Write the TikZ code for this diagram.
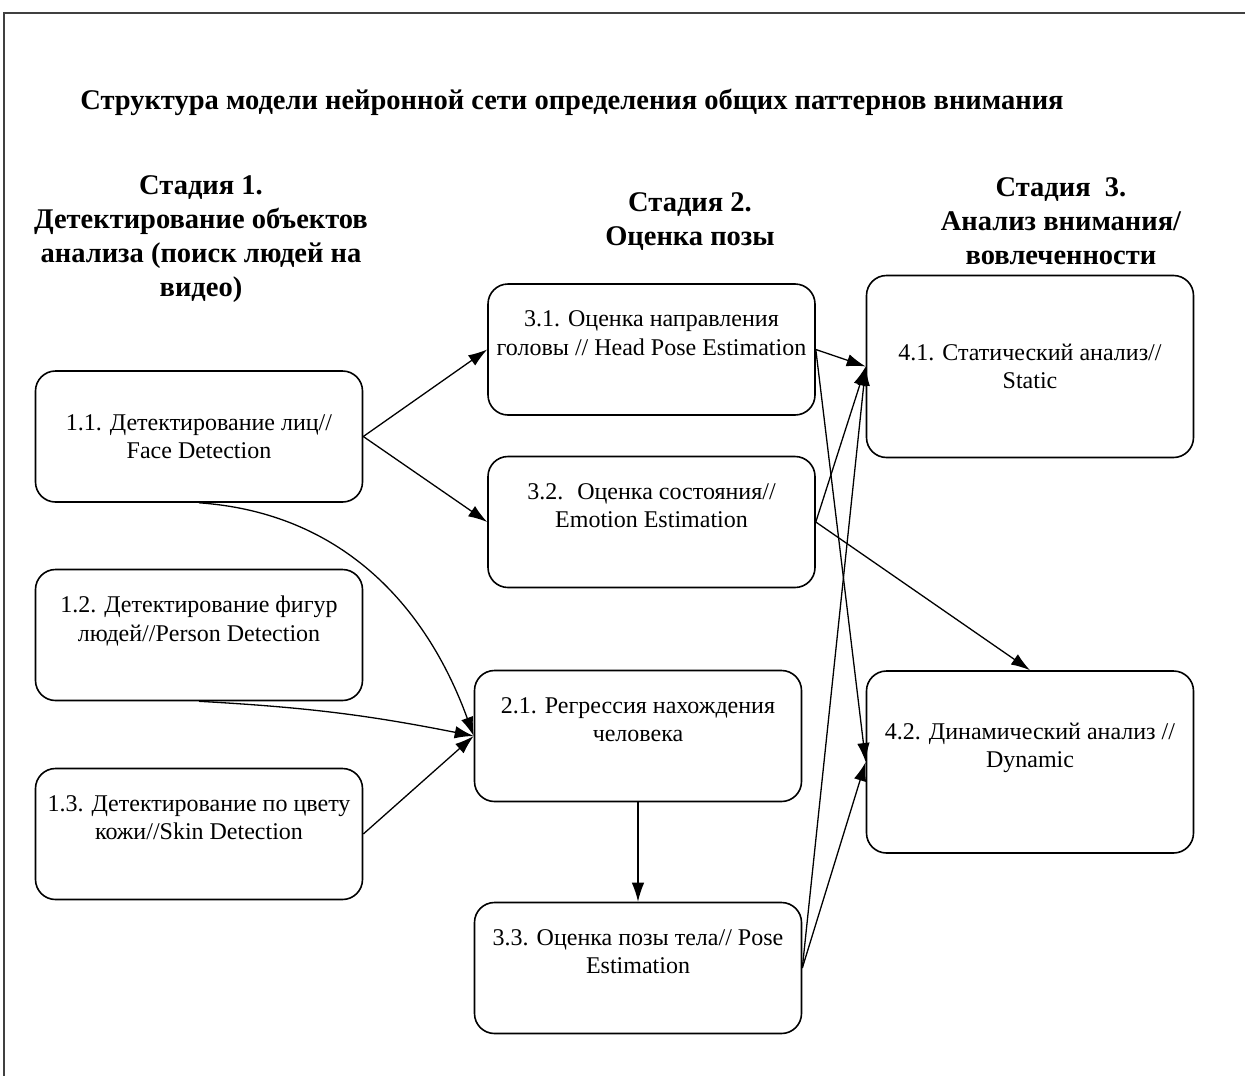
\documentclass[tikz,border=0pt]{standalone}
\usepackage{fontspec}
\setmainfont{Liberation Serif}
\usepackage{tikz}
\usetikzlibrary{arrows.meta,positioning}
\tikzset{
stage/.style={font=\bfseries\fontsize{28.5}{34}\selectfont, align=center}, % stage headings
block/.style={draw, line width=1.6pt, rounded corners=20pt, minimum width=327pt, minimum height=131pt, align=center, inner sep=0pt, text depth=33pt, font=\fontsize{24}{28.5}\selectfont}, % boxes of the steps, text a bit above the middle
centred/.style={text depth={}}, % text in the middle of the box
tallblock/.style={block, minimum height=182pt}, % boxes of stage 3
link/.style={-{Latex[length=19pt,width=12.5pt]}, line width=1.3pt} % connectors between the boxes
}

\begin{document}
\begin{tikzpicture}[x=1pt,y=1pt]
    \useasboundingbox (0,0) rectangle (1245,-1076);
    % frame
    \draw [line width=2pt, black!75] (4,-1076) -- (4,-13) -- (1245,-13);
    \node (title) at (572,-102) {\bfseries\fontsize{28.5}{32}\selectfont Структура модели нейронной сети определения общих паттернов внимания};
    % stage headings
    \node [stage] (st1) at (201,-239) {Стадия 1.\\Детектирование объектов\\анализа (поиск людей на\\видео)};
    \node [stage] (st2) at (690,-222) {Стадия 2.\\Оценка позы};
    \node [stage] (st3) at (1061,-221) {Стадия~ 3.\\Анализ внимания/\\вовлеченности};
    % stage 1
    \node [block, centred] (face) at (199,-436.5) {1.1. Детектирование лиц//\\Face Detection};
    \node [block] (person) at (199,-635) {1.2. Детектирование фигур\\людей//Person Detection};
    \node [block] (skin) at (199,-834) {1.3. Детектирование по цвету\\кожи//Skin Detection};
    % stage 2
    \node [block] (head) at (651.5,-349.5) {3.1. Оценка направления\\головы // Head Pose Estimation};
    \node [block] (emotion) at (651.5,-522) {3.2.~ Оценка состояния//\\Emotion Estimation};
    \node [block] (regress) at (638,-736) {2.1. Регрессия нахождения\\человека};
    \node [block] (pose) at (638,-968) {3.3. Оценка позы тела// Pose\\Estimation};
    % stage 3
    \node [tallblock, centred] (static) at (1030,-366.5) {4.1. Статический анализ//\\Static};
    \node [tallblock] (dynamic) at (1030,-762) {4.2. Динамический анализ //\\Dynamic};
    % connectors
    \draw [link] (face.east) -- (head.west);
    \draw [link] (face.east) -- (emotion.west);
    \draw [link] (face.south) to [out=-4, in=110] (regress.west);
    \draw [link] (person.south) to [bend left=4] (regress.west);
    \draw [link] (skin.east) -- (regress.west);
    \draw [link] (regress) -- (pose);
    \draw [link] (head.east) -- (static.west);
    \draw [link] (head.east) -- (dynamic.west);
    \draw [link] (emotion.east) -- (static.west);
    \draw [link] (emotion.east) -- (dynamic.north);
    \draw [link] (pose.east) -- (static.west);
    \draw [link] (pose.east) -- (dynamic.west);
\end{tikzpicture}
\end{document}
